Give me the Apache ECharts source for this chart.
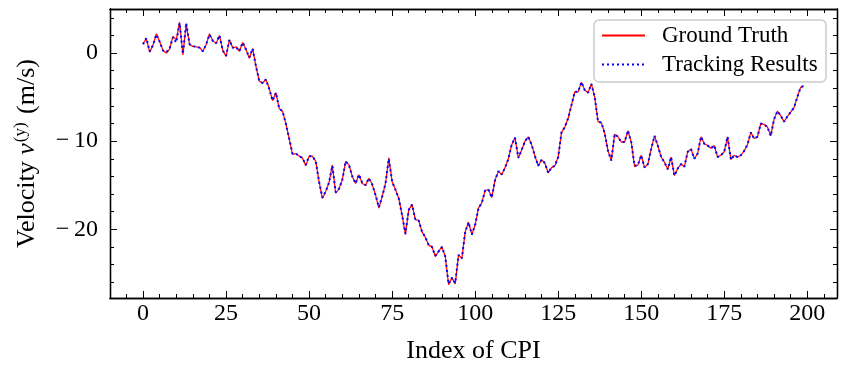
<!DOCTYPE html>
<html>
<head>
<meta charset="utf-8">
<script src="https://cdn.jsdelivr.net/npm/echarts@6/dist/echarts.min.js"></script>
<style>
  html, body { margin: 0; padding: 0; background: #fff; }
  #chart { width: 846px; height: 374px; }
</style>
</head>
<body>
<div id="chart"></div>
<script>
// velocity (m/s) per CPI index
const groundTruth = [
  1.1, 1.6, 0.1, 0.9, 2.2, 1.3, 0.3, 0.0, 0.45, 1.9,
  1.5, 3.5, -0.2, 3.3, 1.0, 0.75, 0.7, 0.65, 0.2, 0.95,
  2.2, 1.4, 1.1, 2.0, 0.3, -0.4, 1.5, 0.6, 0.7, 0.2,
  1.2, 0.4, -0.6, 0.5, -1.5, -3.2, -3.4, -3.0, -4.0, -5.4,
  -4.5, -6.3, -6.6, -8.0, -9.7, -11.5, -11.4, -11.7, -11.9, -12.8,
  -11.7, -11.7, -12.3, -14.6, -16.5, -15.7, -14.7, -12.7, -15.9, -15.4,
  -14.4, -12.3, -12.7, -14.0, -14.8, -13.8, -14.8, -15.0, -14.2, -14.9,
  -16.1, -17.6, -16.3, -14.8, -11.9, -14.6, -15.5, -16.5, -18.4, -20.6,
  -17.8, -17.2, -18.9, -19.0, -20.3, -20.9, -21.8, -22.0, -23.1, -22.5,
  -22.0, -23.1, -26.3, -25.5, -26.2, -22.9, -23.3, -20.3, -19.2, -20.6,
  -19.5, -17.6, -17.0, -15.6, -15.5, -16.4, -14.4, -13.4, -13.8, -13.0,
  -12.0, -10.4, -9.6, -11.9, -11.0, -10.0, -9.5, -10.4, -11.7, -12.8,
  -12.1, -12.5, -13.6, -13.0, -12.8, -11.8, -9.0, -8.4, -7.4, -5.9,
  -4.4, -4.4, -3.3, -4.2, -4.5, -3.5, -5.0, -7.8, -7.9, -9.1,
  -11.1, -12.2, -9.2, -9.5, -10.1, -10.1, -8.8, -10.1, -12.9, -12.7,
  -11.6, -13.0, -12.6, -10.9, -9.4, -10.5, -11.8, -12.4, -13.2, -11.8,
  -13.9, -13.1, -12.6, -12.9, -11.2, -10.9, -12.0, -11.4, -9.5, -10.3,
  -10.5, -10.8, -10.5, -11.8, -11.6, -11.2, -9.5, -12.1, -11.6, -11.8,
  -11.6, -11.1, -10.4, -9.0, -9.7, -9.5, -8.0, -8.1, -8.4, -9.4,
  -7.5, -6.6, -7.1, -7.8, -7.2, -6.7, -6.2, -5.0, -3.9, -3.7
];
const tracking = [
  1.0, 1.7, 0.2, 0.9, 2.1, 1.3, 0.3, 0.1, 0.5, 1.8,
  1.2, 3.4, -0.1, 3.4, 1.0, 0.8, 0.7, 0.6, 0.2, 1.0,
  2.1, 1.4, 1.1, 2.0, 0.3, -0.3, 1.5, 0.6, 0.7, 0.2,
  1.2, 0.4, -0.5, 0.5, -1.5, -3.2, -3.4, -3.0, -4.1, -5.4,
  -4.5, -6.3, -6.6, -8.0, -9.7, -11.4, -11.4, -11.7, -11.9, -12.7,
  -11.7, -11.7, -12.3, -14.6, -16.4, -15.7, -14.7, -12.8, -15.8, -15.4,
  -14.4, -12.3, -12.7, -14.0, -14.8, -13.8, -14.7, -15.0, -14.2, -14.9,
  -16.1, -17.5, -16.3, -14.8, -12.0, -14.6, -15.5, -16.5, -18.4, -20.5,
  -17.8, -17.2, -18.9, -19.0, -20.3, -20.9, -21.8, -22.0, -23.0, -22.5,
  -22.0, -23.1, -26.2, -25.5, -26.1, -22.9, -23.3, -20.3, -19.2, -20.6,
  -19.5, -17.6, -17.0, -15.6, -15.5, -16.4, -14.4, -13.4, -13.8, -13.0,
  -12.0, -10.4, -9.6, -11.9, -11.0, -10.0, -9.5, -10.4, -11.7, -12.8,
  -12.1, -12.5, -13.6, -13.0, -12.8, -11.8, -9.0, -8.4, -7.4, -5.9,
  -4.4, -4.4, -3.3, -4.2, -4.5, -3.5, -5.0, -7.8, -7.9, -9.1,
  -11.1, -12.2, -9.2, -9.5, -10.1, -10.1, -8.8, -10.1, -12.8, -12.7,
  -11.6, -13.0, -12.6, -10.9, -9.4, -10.5, -11.8, -12.4, -13.2, -11.8,
  -13.9, -13.1, -12.6, -12.9, -11.2, -10.9, -12.0, -11.4, -9.5, -10.3,
  -10.5, -10.8, -10.5, -11.8, -11.6, -11.2, -9.5, -12.1, -11.6, -11.8,
  -11.6, -11.1, -10.4, -9.0, -9.7, -9.5, -8.0, -8.1, -8.4, -9.4,
  -7.5, -6.6, -7.1, -7.8, -7.2, -6.7, -6.2, -5.0, -3.9, -3.7
];
const xMajorTicks = [0, 25, 50, 75, 100, 125, 150, 175, 200];
const yMajorTicks = [-20, -10, 0];

// axis limits like matplotlib's 5% margins
const X_MIN = -9.95, X_MAX = 208.95;
const Y_MIN = -27.8, Y_MAX = 5.0;

const xMinorTicks = [];
for (let v = -5; v <= 205; v += 5) xMinorTicks.push(v);
const yMinorTicks = [];
for (let v = -26; v <= 4; v += 2) yMinorTicks.push(v);

const FONT = 'Liberation Serif';

function frameAxis(kind, pos, ticks, len, showLabel) {
  const isX = kind === 'x';
  return {
    type: 'value',
    position: pos,
    min: isX ? X_MIN : Y_MIN,
    max: isX ? X_MAX : Y_MAX,
    axisLine: { show: true, onZero: false, lineStyle: { color: '#000', width: 1.3 } },
    axisTick: { show: true, inside: true, length: len, customValues: ticks, lineStyle: { color: '#000', width: 1 } },
    axisLabel: {
      show: showLabel, customValues: ticks, margin: isX ? 4 : 12,
      color: '#000', fontFamily: FONT, fontSize: 24,
      formatter: v => (v < 0 ? '\u2212\u2009' + Math.abs(v) : '' + v)
    },
    splitLine: { show: false },
    minorTick: { show: false },
    z: 10
  };
}

const xMain = frameAxis('x', 'bottom', xMajorTicks, 7, true);
xMain.name = 'Index of CPI';
xMain.nameLocation = 'middle';
xMain.nameGap = 40;
xMain.nameTextStyle = { color: '#000', fontFamily: FONT, fontSize: 26 };

const yMain = frameAxis('y', 'left', yMajorTicks, 7, true);
yMain.name = '{t|Velocity }{i|v}{s|(y)}{t| (m/s)}';
yMain.nameLocation = 'middle';
yMain.nameRotate = 90;
yMain.nameGap = 68;
yMain.nameTextStyle = {
  color: '#000', fontFamily: FONT, fontSize: 26,
  rich: {
    t: { fontFamily: FONT, fontSize: 26, color: '#000', lineHeight: 30 },
    i: { fontFamily: FONT, fontSize: 26, fontStyle: 'italic', color: '#000', lineHeight: 30 },
    s: { fontFamily: FONT, fontSize: 17, color: '#000', verticalAlign: 'top', lineHeight: 30, padding: [0, 2, 0, 1] }
  }
};

const chart = echarts.init(document.getElementById('chart'));
chart.setOption({
  animation: false,
  backgroundColor: '#fff',
  grid: { left: 110, right: 9, top: 9, bottom: 76, containLabel: false },
  xAxis: [
    xMain,
    frameAxis('x', 'bottom', xMinorTicks, 4, false),
    frameAxis('x', 'top', xMajorTicks, 7, false),
    frameAxis('x', 'top', xMinorTicks, 4, false)
  ],
  yAxis: [
    yMain,
    frameAxis('y', 'left', yMinorTicks, 4, false),
    frameAxis('y', 'right', yMajorTicks, 7, false),
    frameAxis('y', 'right', yMinorTicks, 4, false)
  ],
  legend: {
    orient: 'vertical',
    right: 20,
    top: 20,
    padding: [2, 4, 4, 7],
    itemGap: 2,
    itemWidth: 43,
    itemHeight: 14,
    backgroundColor: 'rgba(255,255,255,0.8)',
    borderColor: '#cccccc',
    borderWidth: 1.5,
    borderRadius: 5,
    itemStyle: { color: 'transparent', borderWidth: 0, opacity: 0 },
    textStyle: { color: '#000', fontFamily: FONT, fontSize: 23, lineHeight: 27, padding: [0, 0, 0, 12], width: 160 },
    data: ['Ground Truth', 'Tracking Results']
  },
  series: [
    {
      name: 'Ground Truth',
      type: 'line',
      xAxisIndex: 0,
      yAxisIndex: 0,
      symbol: 'none',
      showSymbol: false,
      data: groundTruth.map((v, i) => [i, v]),
      lineStyle: { color: '#ff0000', width: 1.2 },
      itemStyle: { color: '#ff0000' }
    },
    {
      name: 'Tracking Results',
      type: 'line',
      xAxisIndex: 0,
      yAxisIndex: 0,
      symbol: 'none',
      showSymbol: false,
      data: tracking.map((v, i) => [i, v]),
      lineStyle: { color: '#0000ff', width: 2, type: [2, 3] },
      itemStyle: { color: '#0000ff' }
    }
  ]
});
</script>
</body>
</html>
